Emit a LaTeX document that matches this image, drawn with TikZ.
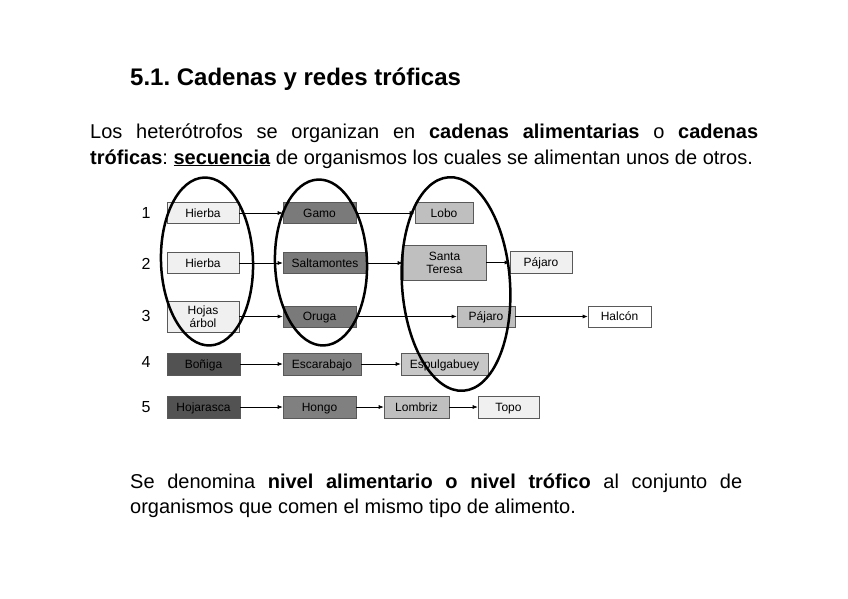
\documentclass[tikz,border=0pt]{standalone}
\usepackage{fontspec}
\setmainfont{Liberation Sans}[WordSpace={1,1,2}]
\usetikzlibrary{arrows.meta}
\frenchspacing

\begin{document}
\begin{tikzpicture}[x=1pt, y=-1pt, >={Latex[length=5pt,width=4pt]},
    org/.style={draw=black!65, line width=0.6pt, inner sep=1pt, align=center,
        font=\fontsize{12}{13}\selectfont},
    uno/.style={text height=10pt, text depth=1.5pt},
    dos/.style={},
    eat/.style={->, line width=0.6pt},
    nivel/.style={line width=2.5pt}]
    \useasboundingbox (0,0) rectangle (848,599);

    \node[anchor=base west, inner sep=0pt, font=\bfseries\fontsize{24}{28}\selectfont] (titulo) at (130,86) {5.1. Cadenas y redes tróficas};
    \node[anchor=base west, inner sep=0pt, text width=668pt, align=justify, font=\fontsize{20}{25}\selectfont] (intro) at (90,139)
        {Los heterótrofos se organizan en \textbf{cadenas alimentarias} o \textbf{cadenas}\linebreak
         \textbf{tróficas}: \underline{\textbf{secuencia}} de organismos los cuales se alimentan unos de otros.};

    % row numbers
    \foreach \n/\y in {1/213, 2/264, 3/316, 4/362, 5/407} {
        \node[font=\fontsize{16}{16}\selectfont] (fila\n) at (146,\y) {\n};
    }

    % organisms: name/x/y/width/height/tone/lines/label
    \foreach \name/\x/\y/\w/\h/\tone/\lin/\lab in {
        hierbaA/203/213/72/21/6/uno/Hierba, gamo/319.5/213/73/21/52/uno/Gamo, lobo/444/213/58/21/25/uno/Lobo,
        hierbaB/203/263/72/21/6/uno/Hierba, salta/325/263/84/21/52/uno/Saltamontes, santa/444.5/262.5/83/35/25/dos/{Santa\\Teresa}, pajaroA/541/262/62/22/6/uno/Pájaro,
        hojas/203/316.5/72/31/6/dos/{Hojas\\árbol}, oruga/319.5/316.5/73/21/52/uno/Oruga, pajaroB/486/316.5/58/21/25/uno/Pájaro, halcon/619.5/316.5/63/21/0/uno/Halcón,
        bonhiga/203.5/364/73/22/68/uno/Boñiga, escara/322/364/78/22/50/uno/Escarabajo, espulga/444.5/364/87/22/22/uno/Espulgabuey,
        hojara/203.5/407/73/22/68/uno/Hojarasca, hongo/319.5/407/73/22/50/uno/Hongo, lombriz/416.5/407/65/22/25/uno/Lombriz, topo/508.5/407/61/22/6/uno/Topo} {
        \node[org, \lin, fill=black!\tone, minimum width=\w pt, minimum height=\h pt] (\name) at (\x,\y) {\lab};
    }

    \foreach \a/\b in {hierbaA/gamo, gamo/lobo, hierbaB/salta, salta/santa, santa/pajaroA,
        hojas/oruga, oruga/pajaroB, pajaroB/halcon, bonhiga/escara, escara/espulga,
        hojara/hongo, hongo/lombriz, lombriz/topo} {
        \draw[eat] (\a.east) -- (\a.east -| \b.west);
    }

    % trophic levels
    \draw[nivel, rotate around={2:(207,261.5)}] (207,261.5) ellipse [x radius=46pt, y radius=84pt];
    \draw[nivel, rotate around={2:(321,262.5)}] (321,262.5) ellipse [x radius=46pt, y radius=83pt];
    \draw[nivel, rotate around={4:(456,284)}] (456,284) ellipse [x radius=54pt, y radius=107pt];

    \node[anchor=base west, inner sep=0pt, text width=612pt, align=justify, font=\fontsize{20}{25}\selectfont] (nivel) at (130,488)
        {Se denomina \textbf{nivel alimentario o nivel trófico} al conjunto de\linebreak
         organismos que comen el mismo tipo de alimento.};
\end{tikzpicture}
\end{document}
